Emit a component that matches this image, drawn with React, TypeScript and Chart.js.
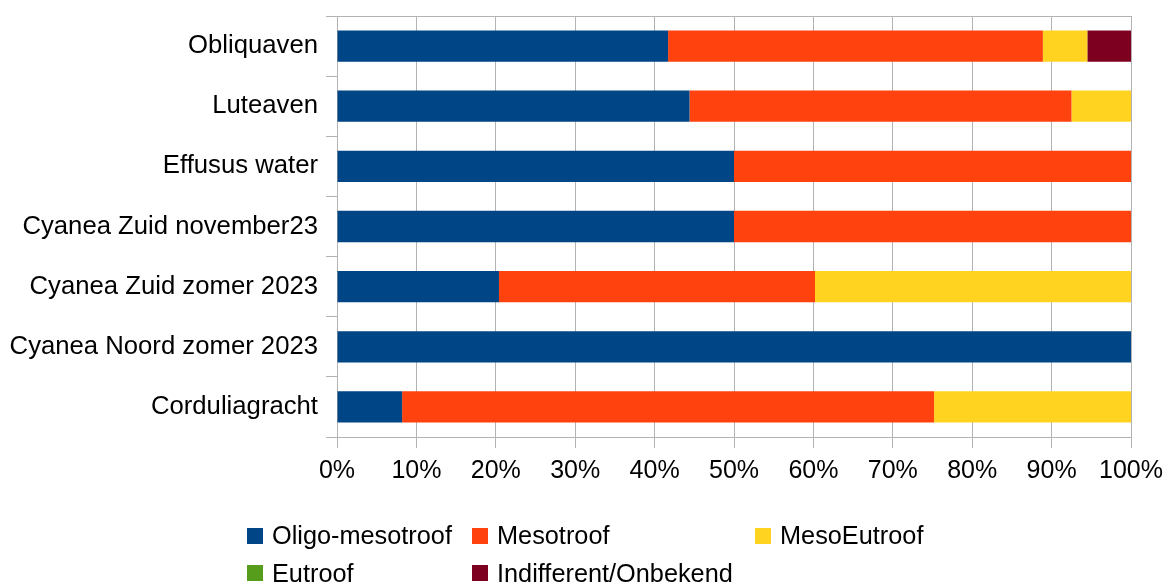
import React, { useEffect, useRef } from "react";
import { Chart, registerables } from "chart.js";

Chart.register(...registerables);

const categories = [
  "Obliquaven",
  "Luteaven",
  "Effusus water",
  "Cyanea Zuid november23",
  "Cyanea Zuid zomer 2023",
  "Cyanea Noord zomer 2023",
  "Corduliagracht",
];

const seriesNames = ["Oligo-mesotroof", "Mesotroof", "MesoEutroof", "Eutroof", "Indifferent/Onbekend"];
const seriesColors = ["#004586", "#ff420e", "#ffd320", "#579d1c", "#7e0021"];

const oligoMesotroof = [41.7, 44.4, 50, 50, 20.4, 100, 8.2];
const mesotroof = [47.2, 48.1, 50, 50, 39.8, 0, 67.0];
const mesoEutroof = [5.6, 7.5, 0, 0, 39.8, 0, 24.8];
const eutroof = [0, 0, 0, 0, 0, 0, 0];
const indifferent = [5.5, 0, 0, 0, 0, 0, 0];

const seriesValues = [oligoMesotroof, mesotroof, mesoEutroof, eutroof, indifferent];

const FONT = "'Liberation Sans', Arial, sans-serif";
const GRID = "#b3b3b3";

export default function App() {
  const ref = useRef<HTMLCanvasElement | null>(null);

  useEffect(() => {
    document.body.style.margin = "0";
    const chart = new Chart(ref.current as HTMLCanvasElement, {
      type: "bar",
      data: {
        labels: categories,
        datasets: seriesNames.map((name, i) => ({
          label: name,
          data: seriesValues[i],
          backgroundColor: seriesColors[i],
          borderWidth: 0,
          categoryPercentage: 1,
          barPercentage: 0.52,
        })),
      },
      options: {
        indexAxis: "y",
        animation: false,
        responsive: false,
        maintainAspectRatio: false,
        layout: { padding: { top: 16, right: 37, left: 0, bottom: 0 } },
        plugins: {
          legend: { display: false },
          tooltip: { enabled: false },
        },
        scales: {
          x: {
            stacked: true,
            min: 0,
            max: 100,
            ticks: {
              stepSize: 10,
              callback: (v: any) => v + "%",
              color: "#000",
              font: { family: FONT, size: 25 },
              padding: 8,
              maxRotation: 0,
            },
            grid: { color: GRID, lineWidth: 1, tickLength: 11, drawOnChartArea: true },
            border: { display: true, color: GRID },
            afterFit: (s: any) => {
              s.height = 149;
              s.paddingLeft = 0;
              s.paddingRight = 0;
            },
          },
          x2: {
            position: "top",
            min: 0,
            max: 100,
            ticks: { display: false },
            grid: { display: false },
            border: { display: true, color: GRID },
            afterFit: (s: any) => {
              s.height = 0;
              s.paddingLeft = 0;
              s.paddingRight = 0;
            },
          },
          y: {
            stacked: true,
            ticks: {
              color: "#000",
              font: { family: FONT, size: 25.7 },
              padding: 8,
            },
            grid: { color: GRID, lineWidth: 1, tickLength: 11, drawOnChartArea: false, offset: true },
            border: { display: true, color: GRID },
            afterFit: (s: any) => {
              s.width = 337;
              s.paddingTop = 0;
              s.paddingBottom = 0;
            },
          },
        },
      } as any,
    });
    return () => chart.destroy();
  }, []);

  const colWidths = [225, 283, 300];
  return (
    <div style={{ position: "absolute", left: 0, top: 0, width: 1168, height: 586, background: "#fff" }}>
      <canvas ref={ref} width={1168} height={586} style={{ display: "block" }} />
      <div
        style={{
          position: "absolute",
          left: 247,
          top: 517,
          display: "grid",
          gridTemplateColumns: colWidths.map((w) => w + "px").join(" "),
          gridAutoRows: "37.5px",
          fontFamily: FONT,
          fontSize: 25.3,
          color: "#000",
        }}
      >
        {seriesNames.map((name, i) => (
          <div key={name} style={{ display: "flex", alignItems: "center", whiteSpace: "nowrap" }}>
            <span
              style={{
                display: "inline-block",
                width: 16,
                height: 16,
                background: seriesColors[i],
                marginRight: 9,
              }}
            />
            <span>{name}</span>
          </div>
        ))}
      </div>
    </div>
  );
}
